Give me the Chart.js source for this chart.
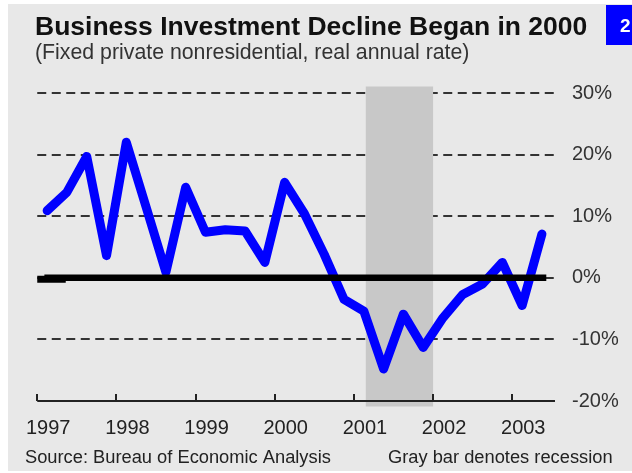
<!DOCTYPE html>
<html lang="en">
<head>
  <meta charset="UTF-8" />
  <title>Business Investment Decline Began in 2000</title>
  <script src="https://cdn.jsdelivr.net/npm/chart.js"></script>
  <style>
    html, body { margin: 0; padding: 0; background: #fff; }
    canvas { display: block; }
  </style>
</head>
<body>
  <canvas id="investChart" width="632" height="473"></canvas>

  <script>
    // quarterly data, 1997Q1 .. 2003Q2
    const quarters = ['1997Q1','1997Q2','1997Q3','1997Q4','1998Q1','1998Q2','1998Q3','1998Q4',
                      '1999Q1','1999Q2','1999Q3','1999Q4','2000Q1','2000Q2','2000Q3','2000Q4',
                      '2001Q1','2001Q2','2001Q3','2001Q4','2002Q1','2002Q2','2002Q3','2002Q4',
                      '2003Q1','2003Q2'];
    const growth = [10.9, 13.9, 19.7, 3.6, 22.0, 11.5, 0.9, 14.7,
                    7.4, 7.8, 7.6, 2.5, 15.5, 10.4, 3.8, -3.5,
                    -5.4, -14.8, -5.9, -11.3, -6.5, -2.7, -1.0, 2.5,
                    -4.5, 7.1];
    const yearTicks = [1997, 1998, 1999, 2000, 2001, 2002, 2003];
    const yTicks = [-20, -10, 0, 10, 20, 30];
    const recession = [2001.15, 2002.0];   // gray bar
    const zeroSpan = [1997.09, 2003.43];    // thick black 0% line
    const zeroStub = [1996.98, 1997.36];    // little offset piece at its left end

    const FONT = "'Liberation Sans', Arial, Helvetica, sans-serif";

    // mid-quarter position on the year axis
    const qPos = q => +q.slice(0, 4) + (+q.slice(5) - 0.5) / 4;
    const points = quarters.map((q, i) => ({ x: qPos(q), y: growth[i] }));

    // background panel, titles, footer and badge
    const frame = {
      id: 'frame',
      beforeDraw(chart) {
        const c = chart.ctx;
        c.save();
        c.fillStyle = '#fff';
        c.fillRect(0, 0, 632, 473);
        c.fillStyle = '#e8e8e8';
        c.fillRect(8, 4, 624, 467);

        c.fillStyle = '#111';
        c.font = 'bold 26.5px ' + FONT;
        c.textBaseline = 'alphabetic';
        c.fillText('Business Investment Decline Began in 2000', 35, 34.5);

        c.fillStyle = '#333';
        c.font = '21.3px ' + FONT;
        c.fillText('(Fixed private nonresidential, real annual rate)', 35, 59);

        c.font = '18.3px ' + FONT;
        c.fillStyle = '#222';
        c.fillText('Source: Bureau of Economic Analysis', 25, 463);
        c.fillText('Gray bar denotes recession', 388, 463);

        c.fillStyle = '#0000ff';
        c.fillRect(606, 5, 26, 40);
        c.fillStyle = '#fff';
        c.font = 'bold 19px ' + FONT;
        c.fillText('2', 620, 31.5);
        c.restore();
      },
      beforeDatasetsDraw(chart) {
        const { ctx: c, chartArea: a, scales: { x } } = chart;
        const x0 = x.getPixelForValue(recession[0]);
        const x1 = x.getPixelForValue(recession[1]);
        c.save();
        c.fillStyle = '#c8c8c8';
        c.fillRect(x0, a.top - 6.5, x1 - x0, a.bottom - a.top + 12);

        // bottom axis with upward ticks
        c.strokeStyle = '#222';
        c.lineWidth = 2;
        c.beginPath();
        c.moveTo(a.left, a.bottom);
        c.lineTo(a.right, a.bottom);
        yearTicks.forEach(v => {
          const px = Math.round(x.getPixelForValue(v));
          c.moveTo(px, a.bottom);
          c.lineTo(px, a.bottom - 7);
        });
        c.stroke();
        c.restore();
      }
    };

    const ctx = document.getElementById('investChart').getContext('2d');
    new Chart(ctx, {
      type: 'line',
      data: {
        datasets: [
          {
            label: 'Business investment',
            data: points,
            borderColor: '#0000ff',
            borderWidth: 9,
            borderJoinStyle: 'round',
            borderCapStyle: 'round',
            pointRadius: 0,
            tension: 0,
            order: 3
          },
          {
            label: 'zero',
            data: zeroSpan.map(v => ({ x: v, y: 0 })),
            borderColor: '#000',
            borderWidth: 6.5,
            borderCapStyle: 'butt',
            pointRadius: 0,
            order: 1
          },
          {
            label: 'zero stub',
            data: zeroStub.map(v => ({ x: v, y: -0.25 })),
            borderColor: '#000',
            borderWidth: 7,
            borderCapStyle: 'butt',
            pointRadius: 0,
            order: 2
          }
        ]
      },
      options: {
        responsive: false,
        devicePixelRatio: 1,
        animation: false,
        events: [],
        layout: { padding: { left: 37, top: 93, right: 0, bottom: 0 } },
        plugins: { legend: { display: false }, tooltip: { enabled: false } },
        scales: {
          x: {
            type: 'linear',
            min: 1997,
            max: 2003.54,
            afterFit(s) { s.height = 72; },
            afterBuildTicks(s) { s.ticks = yearTicks.map(v => ({ value: v })); },
            grid: { display: false, drawTicks: false },
            border: { display: false },
            ticks: {
              autoSkip: false,
              maxRotation: 0,
              labelOffset: 11,
              padding: 15,
              color: '#222',
              font: { family: FONT, size: 20 },
              callback: v => String(v)
            }
          },
          y: {
            position: 'right',
            min: -20,
            max: 30,
            afterFit(s) { s.width = 77; },
            afterBuildTicks(s) { s.ticks = yTicks.map(v => ({ value: v })); },
            grid: {
              drawTicks: false,
              lineWidth: 2,
              color: c => c.tick && c.tick.value === -20 ? 'rgba(0,0,0,0)' : '#333'
            },
            border: { display: false, dash: [9, 5.5] },
            ticks: {
              padding: 17,
              color: '#333',
              font: { family: FONT, size: 20 },
              callback: v => v + '%'
            }
          }
        }
      },
      plugins: [frame]
    });
  </script>
</body>
</html>
